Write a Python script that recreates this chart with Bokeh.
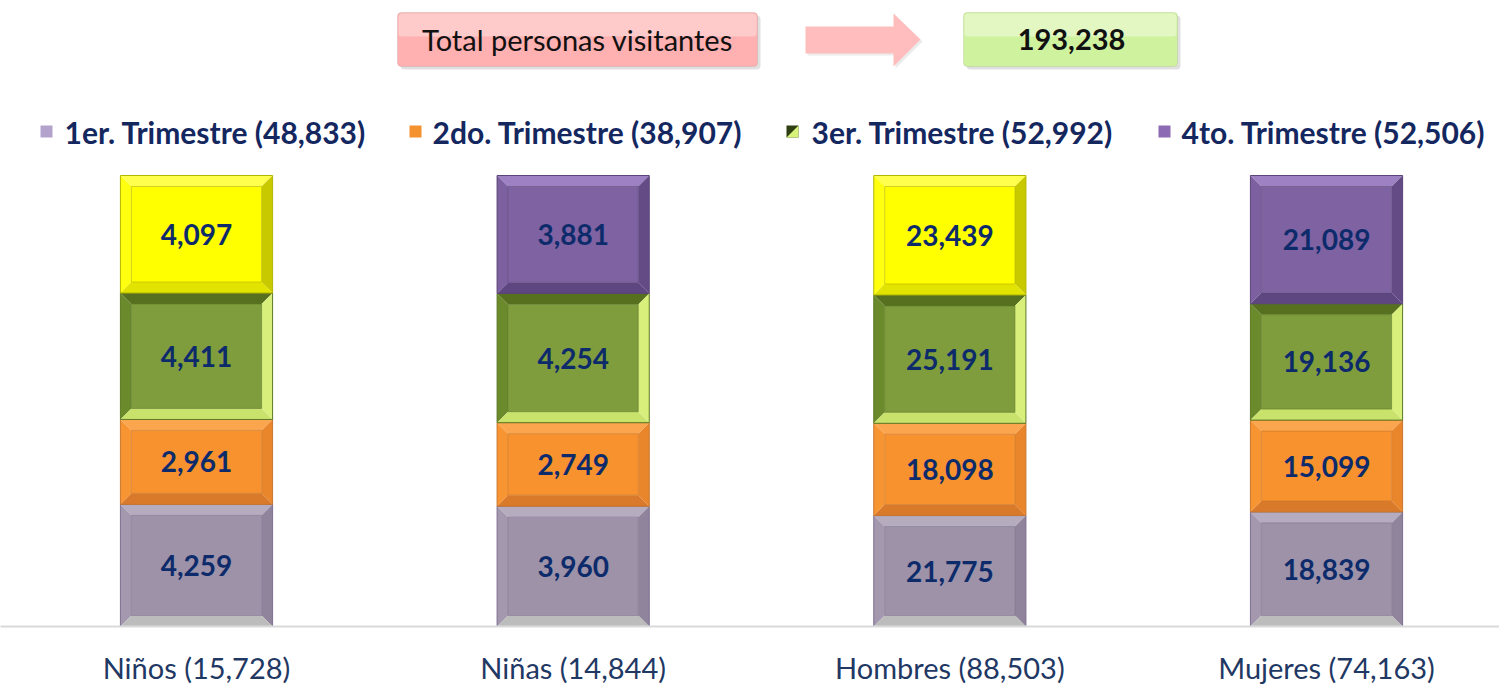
from bokeh.plotting import figure
from bokeh.models import Range1d, FixedTicker, BoxAnnotation, PolyAnnotation
from bokeh.core.properties import value
from bokeh.embed import file_html
from bokeh.resources import INLINE

# ---------------- data ----------------
categories = ["Niños", "Niñas", "Hombres", "Mujeres"]
series_names = ["1er. Trimestre", "2do. Trimestre", "3er. Trimestre", "4to. Trimestre"]
q1 = [4259, 3960, 21775, 18839]
q2 = [2961, 2749, 18098, 15099]
q3 = [4411, 4254, 25191, 19136]
q4 = [4097, 3881, 23439, 21089]
header_label = "Total personas visitantes"

series = [q1, q2, q3, q4]
cat_totals = [sum(v) for v in zip(*series)]
series_totals = [sum(s) for s in series]
grand_total = sum(cat_totals)

# ---------------- layout helpers (pixel <-> data) ----------------
FW, FH = 1499, 626
SX = 376.67           # px per category unit
X0 = -196 / SX        # x_range start
X1 = X0 + FW / SX
SY = 451.0            # px per 100 %
Y1 = FH / SY


def X(px):
    return X0 + px / SX


def Y(py):
    return (626 - py) / SY


p = figure(frame_width=FW, frame_height=FH, output_backend="svg", toolbar_location=None,
           x_range=Range1d(X0, X1), y_range=Range1d(0, Y1), min_border=0,
           background_fill_color="white", border_fill_color="white")
p.outline_line_color = None
p.grid.visible = False
p.yaxis.visible = False

xs = list(range(len(categories)))
p.xaxis.ticker = FixedTicker(ticks=xs)
p.xaxis.major_label_overrides = {i: f"{c} ({t:,})" for i, c, t in zip(xs, categories, cat_totals)}
p.xaxis.major_tick_line_color = None
p.xaxis.minor_tick_line_color = None
p.xaxis.axis_line_color = "#D9D9D9"
p.xaxis.axis_line_width = 2
p.xaxis.major_label_text_font = "Lato"
p.xaxis.major_label_text_font_size = "29px"
p.xaxis.major_label_text_color = "#1F3864"
p.xaxis.major_label_standoff = 17

# ---------------- styles ----------------
BW = 0.404
BX = 11 / SX
BY = 11 / SY
# (top, left, right, bottom, main, outline)
styles = [
    ("#B6ACBF", "#A398AE", "#8F849B", "#BCBCBC", "#9D92A7", "#7E6F90"),
    ("#FBA64E", "#F89533", "#E9862C", "#D97A2A", "#F7922E", "#C8762C"),
    ("#56701F", "#6A8A2C", "#D9EF7C", "#C8E26C", "#7F9D3C", "#5D7A25"),
    ("#FFFF4D", "#FFFF10", "#C9C900", "#E3E300", "#FFFF00", "#B5B500"),
]
purple = ("#9D81C2", "#7C60A0", "#644B86", "#5E4680", "#7E62A2", "#5A4478")
top_style_per_cat = [styles[3], purple, styles[3], purple]
label_color = "#0D2B6B"

cum = [0.0] * len(categories)
for si, s in enumerate(series):
    for ci, v in enumerate(s):
        st = top_style_per_cat[ci] if si == 3 else styles[si]
        b = cum[ci] / cat_totals[ci]
        t = (cum[ci] + v) / cat_totals[ci]
        cum[ci] += v
        l, r = xs[ci] - BW / 2, xs[ci] + BW / 2
        il, ir, ib, it = l + BX, r - BX, b + BY, t - BY
        # bevel bands
        p.patch([l, r, ir, il], [t, t, it, it], fill_color=st[0], line_color=None)
        p.patch([l, il, il, l], [t, it, ib, b], fill_color=st[1], line_color=None)
        p.patch([r, ir, ir, r], [t, it, ib, b], fill_color=st[2], line_color=None)
        p.patch([l, r, ir, il], [b, b, ib, ib], fill_color=st[3], line_color=None)
        p.quad(left=[il], right=[ir], bottom=[ib], top=[it], fill_color=st[4],
               line_color=st[5], line_width=1, line_alpha=0.6)
        p.quad(left=[l], right=[r], bottom=[b], top=[t], fill_color=None,
               line_color=st[5], line_width=1)
        p.text(x=[xs[ci]], y=[(b + t) / 2], text=[f"{v:,}"], text_align="center",
               text_baseline="middle", text_font=value("Lato"), text_font_style="bold",
               text_font_size="28px", text_color=label_color)

# ---------------- header ----------------
header_boxes = [(397, 757, "#FFB0B0", "#FFD6D6", "#B69A9A"),
                (963, 1177, "#CFF29E", "#E9FAD0", "#A2B884")]
for (l, r, fill, light, line) in header_boxes:
    p.add_layout(BoxAnnotation(left=X(l + 3), right=X(r + 3), top=Y(15), bottom=Y(69),
                               fill_color="#000000", fill_alpha=0.12, line_color=None,
                               border_radius=4, level="underlay"))
    p.add_layout(BoxAnnotation(left=X(l), right=X(r), top=Y(12), bottom=Y(66),
                               fill_color=fill, fill_alpha=1, line_color=line,
                               line_width=1, border_radius=4, level="underlay"))
    p.add_layout(BoxAnnotation(left=X(l + 1), right=X(r - 1), top=Y(13), bottom=Y(36),
                               fill_color=light, fill_alpha=0.7, line_color=None,
                               border_radius=3, level="underlay"))

ax = [805, 893, 893, 920, 893, 893, 805]
ay = [26, 26, 13, 39, 66, 53, 53]
p.add_layout(PolyAnnotation(xs=[X(v + 2) for v in ax], ys=[Y(v + 2) for v in ay],
                            fill_color="#000000", fill_alpha=0.08, line_color=None,
                            level="underlay"))
p.add_layout(PolyAnnotation(xs=[X(v) for v in ax], ys=[Y(v) for v in ay],
                            fill_color="#FFBDBD", fill_alpha=1, line_color=None,
                            level="underlay"))

p.text(x=[X(577)], y=[Y(39)], text=[header_label], text_align="center", text_baseline="middle",
       text_font=value("Lato"), text_font_size="29px", text_color="#111111")
p.text(x=[X(1071)], y=[Y(39)], text=[f"{grand_total:,}"], text_align="center",
       text_baseline="middle", text_font=value("Lato"), text_font_style="bold",
       text_font_size="29px", text_color="#111111")

# ---------------- legend ----------------
legend_marker_px = [46, 415, 792, 1164]
legend_text_px = [64, 432, 811, 1181]
legend_fill = ["#B3A3CC", "#F4922F", "#2F3F12", "#8C6BB4"]
for i in range(4):
    mx, tx = legend_marker_px[i], legend_text_px[i]
    p.quad(left=[X(mx - 6)], right=[X(mx + 6)], bottom=[Y(137)], top=[Y(125)],
           fill_color=legend_fill[i], line_color=None)
    if i == 2:
        p.patch([X(mx + 6), X(mx + 6), X(mx - 6)], [Y(125), Y(137), Y(137)],
                fill_color="#D8F27A", line_color=None)
    p.text(x=[X(tx)], y=[Y(131)], text=[f"{series_names[i]} ({series_totals[i]:,})"],
           text_align="left", text_baseline="middle", text_font=value("Lato"),
           text_font_style="bold", text_font_size="30px", text_color="#14275F")

open("out.html", "w").write(file_html(p, INLINE))
